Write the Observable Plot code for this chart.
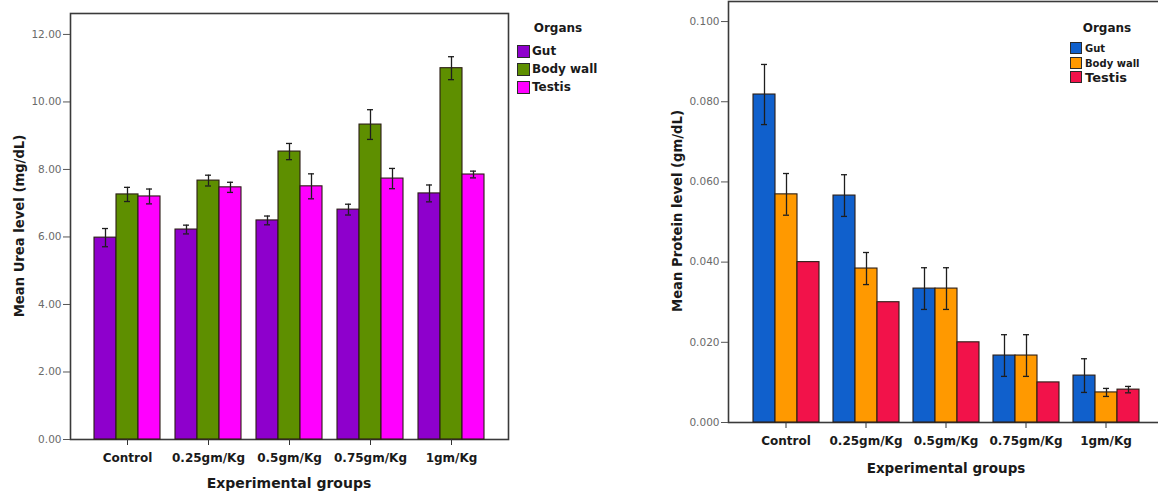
<!DOCTYPE html>
<html>
<head>
<meta charset="utf-8">
<script src="https://cdn.jsdelivr.net/npm/d3@7"></script>
<script src="https://cdn.jsdelivr.net/npm/@observablehq/plot@0.6"></script>
<style>
  body { margin: 0; background: #fff; overflow: hidden; }
  #wrap { position: relative; width: 1158px; height: 492px; overflow: hidden; background: #fff;
          font-family: "DejaVu Sans", "Liberation Sans", Arial, sans-serif; color: #111; }
  .layer { position: absolute; top: 0; }
  .ttl { position: absolute; font-weight: bold; white-space: nowrap; transform: translate(-50%, -50%); color: #1a1a1a; }
  .rot { transform: translate(-50%, -50%) rotate(-90deg); }
  .lg { position: absolute; white-space: nowrap; font-weight: bold; color: #1a1a1a; }
  .sw { position: absolute; box-sizing: border-box; border: 1px solid #2a2a2a; }
</style>
</head>
<body>
<div id="wrap"></div>
<script>
// ---- data ----
const groups = ["Control", "0.25gm/Kg", "0.5gm/Kg", "0.75gm/Kg", "1gm/Kg"];
const organs = ["Gut", "Body wall", "Testis"];

// Urea (mg/dL)
const ureaGut        = [5.98, 6.22, 6.49, 6.81, 7.29];
const ureaGutErr     = [0.27, 0.13, 0.13, 0.16, 0.25];
const ureaBody       = [7.26, 7.67, 8.53, 9.33, 11.00];
const ureaBodyErr    = [0.21, 0.16, 0.24, 0.44, 0.34];
const ureaTestis     = [7.20, 7.47, 7.50, 7.73, 7.85];
const ureaTestisErr  = [0.22, 0.15, 0.37, 0.30, 0.10];
const ureaTicks      = [0, 2, 4, 6, 8, 10, 12];

// Protein (gm/dL)
const protGut        = [0.0818, 0.0566, 0.0334, 0.0167, 0.0117];
const protGutErr     = [0.0075, 0.0052, 0.0052, 0.0052, 0.0042];
const protBody       = [0.0569, 0.0384, 0.0334, 0.0167, 0.0075];
const protBodyErr    = [0.0052, 0.0040, 0.0052, 0.0052, 0.0010];
const protTestis     = [0.0400, 0.0300, 0.0200, 0.0100, 0.0082];
const protTestisErr  = [0, 0, 0, 0, 0.0008];
const protTicks      = [0, 0.02, 0.04, 0.06, 0.08, 0.10];

const ureaColors = ["#8e00cc", "#5e8f00", "#ff00ff"];
const protColors = ["#1060cc", "#ff9900", "#f2124a"];

function rowsFor(vals, errs) {
  return organs.flatMap((o, i) => groups.map((g, j) => ({group: g, organ: o, value: vals[i][j], err: errs[i][j]})));
}
const ureaRows = rowsFor([ureaGut, ureaBody, ureaTestis], [ureaGutErr, ureaBodyErr, ureaTestisErr]);
const protRows = rowsFor([protGut, protBody, protTestis], [protGutErr, protBodyErr, protTestisErr]);

const wrap = document.getElementById("wrap");

function chart(cfg) {
  const dims = {width: cfg.width, height: 492, marginLeft: cfg.ml, marginRight: cfg.mr, marginTop: cfg.mt, marginBottom: cfg.mb};
  const font = {fontFamily: "DejaVu Sans, Liberation Sans, Arial, sans-serif", background: "transparent", overflow: "visible"};
  // base layer: frame + y axis
  const base = Plot.plot({
    ...dims, style: font,
    y: {domain: cfg.domain},
    marks: [
      Plot.frame({stroke: "#3a3a3a", strokeWidth: 1.6}),
      Plot.axisY({ticks: cfg.ticks, tickFormat: cfg.fmt, tickSize: 7, tickPadding: 2, fontSize: 10.5, fill: "#6a6a6a", stroke: "#555", label: null})
    ]
  });
  // bar layer: faceted grouped bars
  const errRows = cfg.rows.filter(d => d.err > 0);
  const bars = Plot.plot({
    ...dims, style: font,
    fx: {domain: groups, paddingInner: 0.166, paddingOuter: 0.27, label: null},
    x: {domain: organs, padding: 0, axis: null},
    y: {domain: cfg.domain, axis: null},
    color: {domain: organs, range: cfg.colors},
    marks: [
      Plot.barY(cfg.rows, {fx: "group", x: "organ", y: "value", fill: "organ", stroke: "#2b1d14", strokeWidth: 1.1}),
      Plot.ruleX(errRows, {fx: "group", x: "organ", y1: d => d.value - d.err, y2: d => d.value + d.err, stroke: "#1e1e1e", strokeWidth: 1.3}),
      Plot.tickY(errRows, {fx: "group", x: "organ", y: d => d.value - d.err, stroke: "#1e1e1e", strokeWidth: 1.3, inset: 8}),
      Plot.tickY(errRows, {fx: "group", x: "organ", y: d => d.value + d.err, stroke: "#1e1e1e", strokeWidth: 1.3, inset: 8}),
      Plot.axisFx({anchor: "bottom", tickSize: 6, tickPadding: 8, fontSize: 12, fontWeight: "bold", fill: "#1a1a1a", stroke: "#333", label: null})
    ]
  });
  for (const el of [base, bars]) {
    el.classList.add("layer");
    el.style.left = cfg.left + "px";
    wrap.appendChild(el);
  }
}

chart({left: 0, width: 520, ml: 70, mr: 12, mt: 13, mb: 53, domain: [0, 12.62], ticks: ureaTicks,
       fmt: d3.format(".2f"), rows: ureaRows, colors: ureaColors});
chart({left: 640, width: 523, ml: 88, mr: 0, mt: 1, mb: 70, domain: [0, 0.105], ticks: protTicks,
       fmt: d3.format(".3f"), rows: protRows, colors: protColors});

// titles
function title(text, x, y, size, rot) {
  const d = document.createElement("div");
  d.className = "ttl" + (rot ? " rot" : "");
  d.textContent = text;
  d.style.left = x + "px"; d.style.top = y + "px"; d.style.fontSize = size + "px";
  wrap.appendChild(d);
}
title("Mean Urea level (mg/dL)", 19, 226, 13.2, true);
title("Experimental groups", 289, 483, 14, false);
title("Mean Protein level (gm/dL)", 677, 211, 13.2, true);
title("Experimental groups", 946, 468, 13.5, false);

// legends
function legend(cfg) {
  const h = document.createElement("div");
  h.className = "lg"; h.textContent = "Organs";
  h.style.left = cfg.hx + "px"; h.style.top = cfg.hy + "px"; h.style.fontSize = "12px";
  h.style.transform = "translate(-50%,-50%)";
  wrap.appendChild(h);
  organs.forEach((o, i) => {
    const s = document.createElement("div");
    s.className = "sw";
    s.style.left = cfg.sx + "px"; s.style.top = (cfg.ys[i] - cfg.ss / 2) + "px";
    s.style.width = cfg.ss + "px"; s.style.height = cfg.ss + "px";
    s.style.background = cfg.colors[i];
    wrap.appendChild(s);
    const t = document.createElement("div");
    t.className = "lg"; t.textContent = o;
    t.style.left = cfg.tx + "px"; t.style.top = cfg.ys[i] + "px";
    t.style.fontSize = cfg.fs[i] + "px"; t.style.transform = "translateY(-50%)";
    wrap.appendChild(t);
  });
}
legend({hx: 558, hy: 28, sx: 517, ss: 13, ys: [51, 69, 87], tx: 532, fs: [12, 12, 12], colors: ureaColors});
legend({hx: 1107, hy: 28, sx: 1070, ss: 12, ys: [48, 63, 77], tx: 1085, fs: [10, 10, 13], colors: protColors});
</script>
</body>
</html>
